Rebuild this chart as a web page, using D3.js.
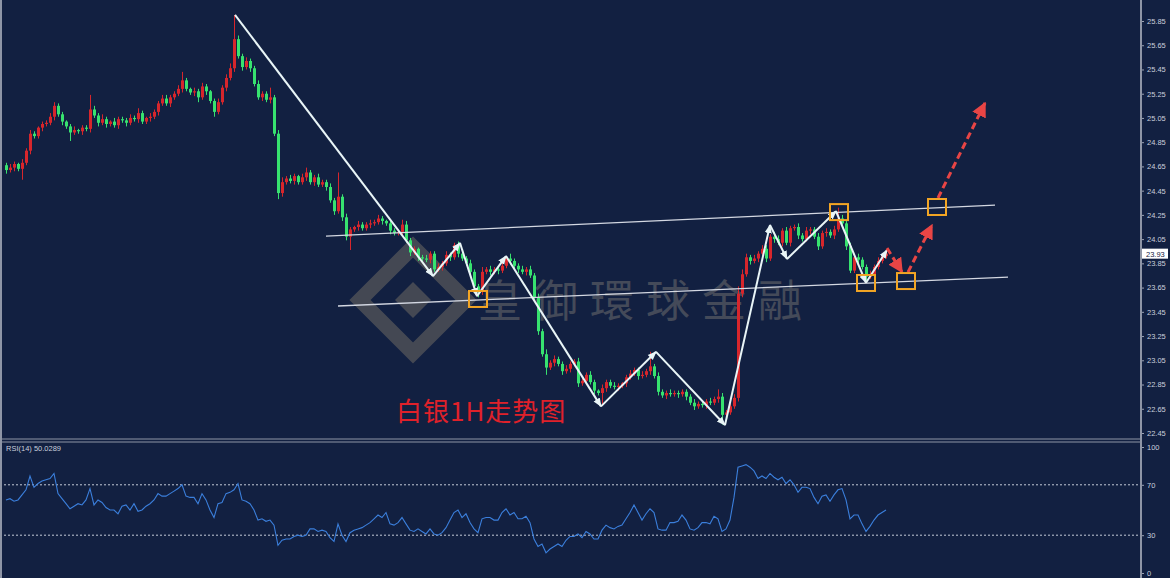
<!DOCTYPE html>
<html>
<head>
<meta charset="utf-8">
<script src="https://cdnjs.cloudflare.com/ajax/libs/d3/7.8.5/d3.min.js"></script>
<style>
  body { margin: 0; background: #122041; }
  svg { display: block; }
  .ax text { fill: #c9cfdc; font-family: "Liberation Sans", Arial, sans-serif; font-size: 7.5px; }
  .ax line { stroke: #9aa1b2; }
  .ax path { display: none; }
</style>
</head>
<body>
<div id="chart"></div>
<script>
// silver 1H candles, one per bar, open = previous close
var firstOpen = 24.66;
var closes = [
  24.62,24.64,24.67,24.63,24.68,24.78,24.92,24.90,24.97,25.00,
  25.01,25.06,25.15,25.08,25.02,24.98,24.93,24.95,24.94,24.97,
  24.96,25.12,25.07,25.01,25.04,25.00,25.02,24.99,25.04,25.03,
  25.01,25.05,25.04,25.09,25.02,25.05,25.06,25.10,25.17,25.21,
  25.17,25.22,25.25,25.29,25.36,25.29,25.26,25.27,25.22,25.31,
  25.27,25.19,25.10,25.18,25.30,25.38,25.46,25.70,25.56,25.47,
  25.52,25.46,25.33,25.22,25.25,25.20,25.22,24.92,24.43,24.52,
  24.55,24.53,24.57,24.52,24.56,24.60,24.52,24.56,24.50,24.52,
  24.48,24.37,24.28,24.40,24.23,24.07,24.13,24.15,24.17,24.14,
  24.17,24.18,24.19,24.22,24.20,24.18,24.12,24.10,24.11,24.17,
  24.04,23.94,23.97,23.90,23.89,23.88,23.93,23.80,23.82,23.85,
  23.92,23.90,24.00,23.93,23.89,23.85,23.78,23.66,23.62,23.78,
  23.80,23.78,23.80,23.79,23.83,23.89,23.87,23.83,23.80,23.78,
  23.80,23.75,23.57,23.29,23.10,22.99,23.03,23.06,23.02,22.96,
  22.98,23.02,23.04,22.86,22.88,22.93,22.87,22.80,22.78,22.82,
  22.87,22.84,22.83,22.84,22.86,22.91,22.94,22.97,22.92,22.93,
  22.96,23.00,22.92,22.79,22.76,22.78,22.77,22.78,22.77,22.79,
  22.75,22.70,22.67,22.69,22.68,22.71,22.70,22.73,22.75,22.60,
  22.62,22.67,22.74,23.60,23.76,23.90,23.87,23.89,23.93,23.97,
  23.89,24.07,24.05,24.02,24.12,24.02,24.14,24.15,24.08,24.05,
  24.12,24.13,24.07,23.99,24.10,24.11,24.08,24.13,24.22,24.18,
  23.99,23.79,23.90,23.88,23.82,23.74,23.76,23.82,23.87,23.91,23.93
];
// shadow lengths above / below the body, in cents
var upWick = [
  2,3,2,1,3,2,3,2,1,2, 2,3,3,2,2,1,2,3,1,2, 2,12,3,2,4,2,1,3,2,2,
  2,3,2,4,2,1,3,2,2,3, 3,2,2,3,7,2,1,3,2,3, 2,1,2,3,2,3,4,20,3,2,
  3,2,2,3,2,2,8,2,3,4, 2,3,2,1,3,4,2,2,3,2, 2,3,2,20,2,3,2,1,3,2,
  2,3,2,3,2,1,3,2,2,4, 3,2,2,1,2,3,2,2,3,2, 3,2,2,3,2,2,3,2,2,4,
  2,3,2,2,3,2,4,2,2,3, 2,3,2,3,2,4,2,3,2,2, 3,2,2,3,2,2,3,2,1,3,
  2,2,3,2,1,2,3,2,2,3, 2,12,2,3,2,2,3,2,2,2, 2,2,3,2,2,2,3,2,6,3,
  2,2,3,6,4,3,2,3,2,3, 3,2,4,3,2,3,2,2,3,2, 3,2,2,3,2,3,2,3,9,3,
  2,3,2,3,2,2,3,2,3,2,2
];
var dnWick = [
  3,2,3,2,9,2,3,2,2,3, 2,2,3,2,3,2,7,2,2,3, 2,3,2,3,2,3,2,2,3,2,
  3,2,2,3,2,2,3,2,3,2, 2,3,2,2,3,2,2,3,4,2, 3,2,4,2,2,3,2,3,2,3,
  2,3,2,2,3,2,3,2,5,3, 2,2,3,2,2,3,2,3,2,2, 3,2,3,2,3,3,11,2,3,2,
  2,3,2,2,3,2,3,2,2,3, 2,3,2,3,2,2,3,2,2,3, 2,3,2,3,2,2,3,2,5,3,
  2,3,2,3,2,2,3,2,3,2, 3,2,3,3,2,6,2,3,2,3, 2,3,2,3,2,3,2,3,2,10,
  3,2,2,3,2,3,2,2,3,2, 2,3,2,3,2,3,2,2,3,2, 3,2,3,2,2,3,2,2,3,8,
  3,2,2,3,3,2,3,2,3,2, 3,2,3,2,3,2,3,2,3,2, 2,3,2,3,2,3,2,3,2,3,
  3,2,2,3,2,5,2,3,2,2,2
];
var rsi = [
  58,59,57,58,62,66,77,68,71,73, 74,75,79,63,59,55,51,53,55,54,
  58,67,54,58,56,52,50,50,47,53, 54,50,55,49,50,53,55,58,63,61,
  61,63,65,67,70,61,60,60,55,63, 58,50,44,55,56,63,64,66,71,58,
  57,55,50,42,43,41,42,38,22,26, 27,27,29,30,29,30,35,35,33,34,
  33,28,25,39,30,25,32,34,35,36, 38,40,43,46,44,48,39,38,40,44,
  39,34,33,35,33,31,35,31,30,32, 36,42,48,50,44,47,40,35,32,43,
  44,44,42,42,48,51,46,48,43,43, 45,40,27,21,23,16,19,21,23,21,
  26,29,29,31,28,33,31,27,27,34, 38,36,35,37,38,43,48,54,48,42,
  47,51,48,35,34,34,40,40,41,46, 42,35,34,36,40,40,39,45,43,33,
  35,42,60,84,85,86,84,81,75,77, 75,79,76,74,76,71,74,70,64,68,
  68,67,60,55,61,62,57,62,66,67, 58,43,46,46,39,33,37,42,46,48,50
];
var priceTicks = [22.45,22.65,22.85,23.05,23.25,23.45,23.65,23.85,24.05,24.25,24.45,24.65,24.85,25.05,25.25,25.45,25.65,25.85];
var rsiTicks = [0, 30, 70, 100];
var rsiLevels = [30, 70];
var lastPrice = 23.93;
var rsiLabel = 'RSI(14) 50.0289';
var title = '白银1H走势图';
var watermark = '皇御環球金融';

// analysis drawing (bar index, price)
var zigIdx = [57.25, 106.75, 113.5, 117.75, 125, 148.75, 162.5, 179.75, 191, 195.25, 207.5, 215, 220.25];
var zigPx  = [25.90, 23.745, 24.018, 23.58, 23.91, 22.67, 23.12, 22.516, 24.166, 23.886, 24.28, 23.69, 23.96];
var channelIdx = [[80, 247.25], [83, 250.5]];
var channelPx  = [[24.075, 24.331], [23.498, 23.737]];
var projIdx = [[220.25, 224], [225.5, 231.5], [233, 244.75]];
var projPx  = [[23.976, 23.778], [23.778, 24.166], [24.389, 25.173]];
var boxIdx = [118, 208.25, 215, 225, 232.75];
var boxPx  = [23.556, 24.273, 23.688, 23.704, 24.315];

var W = 1170, H = 578, axisX = 1141;

var svg = d3.select('#chart').append('svg')
  .attr('width', W).attr('height', H);

svg.append('rect').attr('width', W).attr('height', H).attr('fill', '#122041');

var x = d3.scaleLinear().domain([0, 220]).range([6, 886]);
var y = d3.scaleLinear().domain([22.45, 25.85]).range([433, 21]);
var yR = d3.scaleLinear().domain([0, 100]).range([573, 447]);

var defs = svg.append('defs');
defs.append('marker').attr('id', 'arrW')
  .attr('viewBox', '0 0 10 10').attr('refX', 9).attr('refY', 5)
  .attr('markerWidth', 9).attr('markerHeight', 9)
  .attr('markerUnits', 'userSpaceOnUse').attr('orient', 'auto')
  .append('path').attr('d', 'M0,1L10,5L0,9Z').attr('fill', '#e9f5f7');
defs.append('marker').attr('id', 'arrR')
  .attr('viewBox', '0 0 10 10').attr('refX', 9).attr('refY', 5)
  .attr('markerWidth', 15).attr('markerHeight', 15)
  .attr('markerUnits', 'userSpaceOnUse').attr('orient', 'auto')
  .append('path').attr('d', 'M0,0L10,5L0,10Z').attr('fill', '#e84545');

// watermark
var wm = svg.append('g').attr('opacity', 0.4);
wm.append('path')
  .attr('d', 'M413,247 L466,300 L413,353 L360,300 Z')
  .attr('fill', 'none').attr('stroke', '#8f8470').attr('stroke-width', 15);
wm.append('path')
  .attr('d', 'M413,282 L431,300 L413,318 L395,300 Z')
  .attr('fill', '#8f8470');
svg.append('text')
  .attr('x', 478).attr('y', 317)
  .attr('font-family', '"Noto Sans CJK TC", "Noto Sans CJK SC", sans-serif')
  .attr('font-size', 44).attr('letter-spacing', 12)
  .attr('fill', '#444a59')
  .text(watermark);

// candles
var candles = closes.map(function(c, i) {
  var o = i === 0 ? firstOpen : closes[i - 1];
  return { i: i, o: o, c: c,
    h: Math.max(o, c) + upWick[i] / 100,
    l: Math.min(o, c) - dnWick[i] / 100 };
});
var cg = svg.append('g');
cg.selectAll('line.wick').data(candles).enter().append('line')
  .attr('x1', function(d) { return x(d.i) + 0.5; })
  .attr('x2', function(d) { return x(d.i) + 0.5; })
  .attr('y1', function(d) { return y(d.h); })
  .attr('y2', function(d) { return y(d.l); })
  .attr('stroke', function(d) { return d.c >= d.o ? '#d7262c' : '#37e26f'; })
  .attr('stroke-width', 1);
cg.selectAll('rect').data(candles).enter().append('rect')
  .attr('x', function(d) { return x(d.i) - 1; })
  .attr('width', 3)
  .attr('y', function(d) { return y(Math.max(d.o, d.c)); })
  .attr('height', function(d) { return Math.max(1, Math.abs(y(d.o) - y(d.c))); })
  .attr('fill', function(d) { return d.c >= d.o ? '#d7262c' : '#37e26f'; });

// channel lines
channelIdx.forEach(function(ix, k) {
  svg.append('line')
    .attr('x1', x(ix[0])).attr('y1', y(channelPx[k][0]))
    .attr('x2', x(ix[1])).attr('y2', y(channelPx[k][1]))
    .attr('stroke', '#d4d8e2').attr('stroke-width', 1.3);
});

// zigzag arrows
for (var k = 0; k < zigIdx.length - 1; k++) {
  svg.append('line')
    .attr('x1', x(zigIdx[k])).attr('y1', y(zigPx[k]))
    .attr('x2', x(zigIdx[k + 1])).attr('y2', y(zigPx[k + 1]))
    .attr('stroke', '#e9f5f7').attr('stroke-width', 2)
    .attr('marker-end', 'url(#arrW)');
}

// projected dashed red arrows
projIdx.forEach(function(ix, k) {
  svg.append('line')
    .attr('x1', x(ix[0])).attr('y1', y(projPx[k][0]))
    .attr('x2', x(ix[1])).attr('y2', y(projPx[k][1]))
    .attr('stroke', '#e84545').attr('stroke-width', 3)
    .attr('stroke-dasharray', '7,4')
    .attr('marker-end', 'url(#arrR)');
});

// key level boxes
svg.selectAll('rect.box').data(boxIdx).enter().append('rect')
  .attr('class', 'box')
  .attr('x', function(d) { return x(d) - 9; })
  .attr('y', function(d, i) { return y(boxPx[i]) - 8; })
  .attr('width', 18).attr('height', 16)
  .attr('fill', 'none').attr('stroke', '#f2a524').attr('stroke-width', 2);

// title
svg.append('text')
  .attr('x', 396).attr('y', 421)
  .attr('font-family', '"Noto Sans CJK SC", sans-serif')
  .attr('font-size', 26).attr('letter-spacing', 1)
  .attr('fill', '#e0212a')
  .text(title);

// price axis
svg.append('g').attr('class', 'ax')
  .attr('transform', 'translate(' + axisX + ',0)')
  .call(d3.axisRight(y).tickValues(priceTicks).tickSize(3).tickPadding(3).tickFormat(d3.format('.2f')));

svg.append('rect')
  .attr('x', axisX + 1).attr('y', y(lastPrice) - 5)
  .attr('width', 26).attr('height', 10).attr('fill', '#ffffff');
svg.append('text')
  .attr('x', axisX + 5).attr('y', y(lastPrice) + 3)
  .attr('font-family', '"Liberation Sans", Arial, sans-serif').attr('font-size', 7.5)
  .attr('fill', '#122041').text(lastPrice.toFixed(2));

// RSI panel
svg.selectAll('line.lvl').data(rsiLevels).enter().append('line')
  .attr('x1', 0).attr('x2', axisX)
  .attr('y1', function(d) { return yR(d); })
  .attr('y2', function(d) { return yR(d); })
  .attr('stroke', '#c4cad8').attr('stroke-width', 1)
  .attr('stroke-dasharray', '2,2');

svg.append('path')
  .datum(rsi)
  .attr('d', d3.line().x(function(d, i) { return x(i); }).y(function(d) { return yR(d); }))
  .attr('fill', 'none').attr('stroke', '#3b7fdc').attr('stroke-width', 1.1);

svg.append('g').attr('class', 'ax')
  .attr('transform', 'translate(' + axisX + ',0)')
  .call(d3.axisRight(yR).tickValues(rsiTicks).tickSize(3).tickPadding(3));

svg.append('text')
  .attr('x', 6).attr('y', 451)
  .attr('font-family', '"Liberation Sans", Arial, sans-serif').attr('font-size', 7.5)
  .attr('fill', '#c9cfdc').text(rsiLabel);

// frame
var frame = svg.append('g').attr('stroke', '#8e95a6').attr('stroke-width', 2);
frame.append('line').attr('x1', axisX).attr('x2', axisX).attr('y1', 0).attr('y2', H);
frame.append('line').attr('x1', 1).attr('x2', 1).attr('y1', 0).attr('y2', H);
frame.append('line').attr('x1', 0).attr('x2', axisX).attr('y1', 439).attr('y2', 439).attr('stroke-width', 1);
frame.append('line').attr('x1', 0).attr('x2', axisX).attr('y1', 442).attr('y2', 442).attr('stroke-width', 1);
</script>
</body>
</html>
